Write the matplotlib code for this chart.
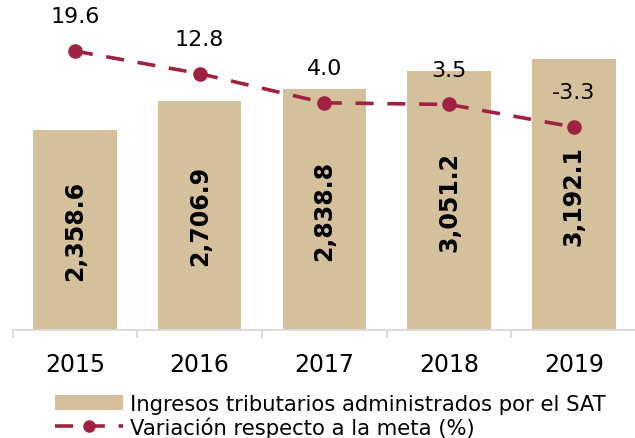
import matplotlib
matplotlib.use("Agg")
import matplotlib.pyplot as plt
from matplotlib.lines import Line2D
from matplotlib.patches import Patch

years = ["2015", "2016", "2017", "2018", "2019"]
ingresos = [2358.6, 2706.9, 2838.8, 3051.2, 3192.1]
variacion = [19.6, 12.8, 4.0, 3.5, -3.3]
bar_labels = ["2,358.6", "2,706.9", "2,838.8", "3,051.2", "3,192.1"]
var_labels = ["19.6", "12.8", "4.0", "3.5", "-3.3"]

BAR_COLOR = "#D4C19C"
LINE_COLOR = "#9F2241"
plt.rcParams["font.family"] = ["DejaVu Sans"]

fig = plt.figure(figsize=(6.35, 4.39), dpi=100)
ax = fig.add_axes([12.6 / 635, 108 / 439, 623.5 / 635, 331 / 439])
x = list(range(len(years)))
ax.bar(x, ingresos, width=0.67, color=BAR_COLOR, zorder=1)
ax.set_xlim(-0.5, 4.5)
ax.set_ylim(0, 3906)
for xi, v, lab in zip(x, ingresos, bar_labels):
    ax.text(xi, v / 2, lab, rotation=90, ha="center", va="center",
            fontsize=17, fontweight="bold", color="black", zorder=5)

for s in ["top", "left", "right"]:
    ax.spines[s].set_visible(False)
ax.spines["bottom"].set_color("#D9D9D9")
ax.spines["bottom"].set_linewidth(1.3)
ax.set_yticks([])
ax.set_xticks(x)
ax.set_xticklabels(years, fontsize=17)
ax.tick_params(axis="x", which="major", length=0, pad=16)
ax.set_xticks([i - 0.5 for i in range(len(years) + 1)], minor=True)
ax.tick_params(axis="x", which="minor", length=6, width=1.3, color="#D9D9D9")

ax2 = ax.twinx()
ax2.set_ylim(-64.5, 35.3)
ax2.axis("off")
ax2.plot(x, variacion, color=LINE_COLOR, linewidth=2.6, linestyle=(0, (5, 3.8)),
         marker="o", markersize=9.5, zorder=3)
for xi, v, lab in zip(x, variacion, var_labels):
    ax2.annotate(lab, (xi, v), xytext=(0, 25), textcoords="offset points",
                 ha="center", va="center", fontsize=16, color="black")

handles = [Patch(facecolor=BAR_COLOR, edgecolor="none"),
           Line2D([], [], color=LINE_COLOR, linewidth=2.6, linestyle=(0, (5, 3.8)),
                  marker="o", markersize=8)]
fig.legend(handles, ["Ingresos tributarios administrados por el SAT",
                     "Variación respecto a la meta (%)"],
           loc="upper left", bbox_to_anchor=(55 / 635, 44 / 439), frameon=False,
           fontsize=15.2, handlelength=3.22, handletextpad=0.33, labelspacing=0.1,
           borderpad=0, borderaxespad=0)

fig.savefig("out.png", dpi=100)
